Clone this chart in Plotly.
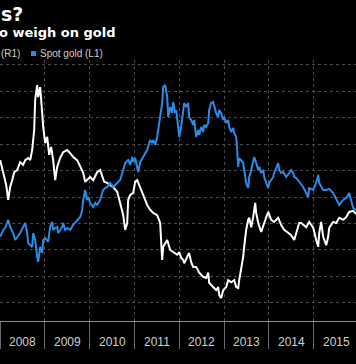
import plotly.graph_objects as go

# ---- data (decimal years) ----
yield_years = [2008.000, 2008.045, 2008.089, 2008.134, 2008.179, 2008.223, 2008.268, 2008.313, 2008.379, 2008.446,
               2008.513, 2008.558, 2008.625, 2008.670, 2008.714, 2008.759, 2008.781, 2008.804, 2008.826, 2008.848,
               2008.893, 2008.938, 2008.960, 2009.004, 2009.049, 2009.094, 2009.138, 2009.183, 2009.228, 2009.272,
               2009.339, 2009.406, 2009.496, 2009.563, 2009.629, 2009.719, 2009.786, 2009.853, 2009.897, 2009.942,
               2010.009, 2010.076, 2010.165, 2010.232, 2010.277, 2010.321, 2010.388, 2010.455, 2010.522, 2010.612,
               2010.656, 2010.701, 2010.746, 2010.790, 2010.835, 2010.857, 2010.902, 2010.969, 2011.013, 2011.058,
               2011.125, 2011.192, 2011.281, 2011.348, 2011.415, 2011.504, 2011.571, 2011.616, 2011.638, 2011.728,
               2011.795, 2011.862, 2011.951, 2011.996, 2012.040, 2012.085, 2012.107, 2012.196, 2012.219, 2012.263,
               2012.308, 2012.375, 2012.442, 2012.531, 2012.598, 2012.643, 2012.665, 2012.754, 2012.821, 2012.866,
               2012.888, 2012.933, 2012.978, 2013.045, 2013.089, 2013.156, 2013.223, 2013.268, 2013.313, 2013.335,
               2013.379, 2013.424, 2013.446, 2013.491, 2013.536, 2013.558, 2013.603, 2013.647, 2013.692, 2013.714,
               2013.759, 2013.826, 2013.893, 2013.982, 2014.049, 2014.116, 2014.205, 2014.272, 2014.339, 2014.429,
               2014.496, 2014.563, 2014.607, 2014.674, 2014.719, 2014.763, 2014.830, 2014.897, 2014.987, 2015.054,
               2015.098, 2015.121, 2015.165, 2015.210, 2015.277, 2015.321, 2015.344, 2015.433, 2015.500, 2015.567,
               2015.656, 2015.723, 2015.790, 2015.879, 2015.946]
real_yield = [1.70, 1.55, 1.42, 1.23, 0.95, 1.19, 1.32, 1.47, 1.51, 1.66,
              1.61, 1.70, 1.74, 1.70, 1.89, 2.27, 2.84, 3.06, 3.12, 2.89,
              3.08, 2.59, 2.33, 2.02, 2.14, 1.80, 1.95, 1.70, 1.32, 1.57,
              1.74, 1.85, 1.89, 1.83, 1.76, 1.70, 1.57, 1.46, 1.29, 1.32,
              1.38, 1.32, 1.47, 1.51, 1.38, 1.29, 1.27, 1.23, 1.19, 1.10,
              0.95, 0.81, 0.66, 0.38, 0.51, 0.95, 1.04, 1.08, 1.29, 1.32,
              1.19, 1.04, 0.85, 0.76, 0.70, 0.66, 0.51, -0.19, 0.06, 0.19,
              0.00, -0.04, -0.09, -0.04, -0.15, -0.19, -0.25, -0.09, -0.06, -0.23,
              -0.32, -0.32, -0.43, -0.51, -0.53, -0.43, -0.62, -0.70, -0.76, -0.70,
              -0.85, -0.91, -0.76, -0.70, -0.57, -0.61, -0.57, -0.70, -0.72, -0.57,
              -0.38, -0.13, 0.06, 0.38, 0.57, 0.61, 0.43, 0.62, 0.89, 0.70,
              0.51, 0.34, 0.51, 0.72, 0.57, 0.53, 0.61, 0.47, 0.38, 0.32,
              0.28, 0.19, 0.32, 0.51, 0.51, 0.47, 0.43, 0.53, 0.42, 0.19,
              0.06, 0.32, 0.53, 0.25, 0.09, 0.25, 0.42, 0.53, 0.51, 0.61,
              0.57, 0.62, 0.72, 0.74, 0.68]

gold_years = [2008.000, 2008.067, 2008.112, 2008.156, 2008.179, 2008.223, 2008.290, 2008.335, 2008.379, 2008.446,
              2008.513, 2008.558, 2008.603, 2008.625, 2008.670, 2008.714, 2008.737, 2008.781, 2008.826, 2008.848,
              2008.893, 2008.938, 2008.960, 2009.004, 2009.071, 2009.116, 2009.161, 2009.183, 2009.228, 2009.272,
              2009.295, 2009.339, 2009.384, 2009.406, 2009.451, 2009.496, 2009.563, 2009.629, 2009.719, 2009.786,
              2009.830, 2009.853, 2009.897, 2009.942, 2009.964, 2010.009, 2010.076, 2010.121, 2010.165, 2010.232,
              2010.277, 2010.299, 2010.344, 2010.388, 2010.455, 2010.522, 2010.612, 2010.679, 2010.746, 2010.790,
              2010.857, 2010.902, 2010.946, 2010.969, 2011.013, 2011.058, 2011.080, 2011.125, 2011.192, 2011.281,
              2011.348, 2011.393, 2011.415, 2011.460, 2011.504, 2011.527, 2011.571, 2011.616, 2011.638, 2011.683,
              2011.728, 2011.750, 2011.795, 2011.839, 2011.862, 2011.906, 2011.929, 2011.973, 2011.996, 2012.040,
              2012.085, 2012.107, 2012.152, 2012.196, 2012.219, 2012.263, 2012.308, 2012.330, 2012.375, 2012.420,
              2012.442, 2012.487, 2012.531, 2012.554, 2012.598, 2012.643, 2012.665, 2012.710, 2012.754, 2012.777,
              2012.821, 2012.866, 2012.888, 2012.933, 2012.978, 2013.000, 2013.045, 2013.089, 2013.112, 2013.156,
              2013.201, 2013.223, 2013.268, 2013.290, 2013.313, 2013.335, 2013.379, 2013.424, 2013.446, 2013.491,
              2013.536, 2013.558, 2013.603, 2013.647, 2013.670, 2013.714, 2013.759, 2013.781, 2013.826, 2013.871,
              2013.893, 2013.938, 2013.982, 2014.004, 2014.049, 2014.094, 2014.116, 2014.161, 2014.205, 2014.228,
              2014.272, 2014.317, 2014.384, 2014.451, 2014.496, 2014.540, 2014.563, 2014.607, 2014.674, 2014.763,
              2014.830, 2014.875, 2014.897, 2014.987, 2015.054, 2015.098, 2015.121, 2015.210, 2015.277, 2015.344,
              2015.433, 2015.500, 2015.567, 2015.656, 2015.723, 2015.790, 2015.835, 2015.879, 2015.946]
gold = [888, 934, 947, 980, 1000, 954, 914, 868, 888, 914,
        954, 980, 914, 848, 835, 822, 914, 868, 756, 723,
        822, 782, 868, 881, 855, 954, 987, 934, 947, 954,
        914, 934, 954, 980, 934, 947, 934, 967, 1000, 1020,
        1066, 1132, 1198, 1132, 1152, 1112, 1086, 1112, 1099, 1132,
        1178, 1198, 1211, 1218, 1244, 1218, 1244, 1264, 1330, 1376,
        1396, 1363, 1416, 1383, 1409, 1350, 1317, 1383, 1416, 1462,
        1528, 1508, 1528, 1495, 1548, 1594, 1660, 1772, 1878, 1891,
        1812, 1680, 1746, 1706, 1779, 1706, 1726, 1594, 1548, 1614,
        1706, 1772, 1746, 1772, 1680, 1660, 1627, 1660, 1548, 1594,
        1561, 1614, 1581, 1627, 1614, 1640, 1726, 1772, 1779, 1746,
        1706, 1680, 1726, 1706, 1660, 1680, 1640, 1660, 1614, 1581,
        1607, 1574, 1548, 1462, 1350, 1409, 1396, 1376, 1330, 1244,
        1211, 1284, 1330, 1396, 1416, 1376, 1330, 1350, 1310, 1330,
        1284, 1244, 1211, 1244, 1264, 1284, 1310, 1350, 1376, 1330,
        1310, 1317, 1284, 1310, 1330, 1310, 1284, 1277, 1251, 1218,
        1178, 1152, 1211, 1198, 1244, 1297, 1244, 1198, 1198, 1205,
        1178, 1139, 1099, 1132, 1145, 1178, 1119, 1079, 1066]

year_ticks = [2008, 2009, 2010, 2011, 2012, 2013, 2014, 2015, 2016]
year_labels = ["2008", "2009", "2010", "2011", "2012", "2013", "2014", "2015"]

title_text = "s?"
subtitle_text = "o weigh on gold"
legend_white = "(R1)"
legend_blue = "Spot gold (L1)"

BLUE = "#2a8ce6"
W, H = 356, 364
T, B = 60, 43

fig = go.Figure()
fig.add_trace(go.Scatter(x=yield_years, y=real_yield, mode="lines", yaxis="y",
                         line=dict(color="#ffffff", width=2), showlegend=False, hoverinfo="skip"))
fig.add_trace(go.Scatter(x=gold_years, y=gold, mode="lines", yaxis="y2",
                         line=dict(color=BLUE, width=2), showlegend=False, hoverinfo="skip"))

annotations = []
for lab in year_labels:
    annotations.append(dict(x=int(lab) + 0.5, y=0, xref="x", yref="paper", text=lab,
                            showarrow=False, yanchor="middle", yshift=-21,
                            font=dict(family="Liberation Sans, Arial", size=12, color="#cfcfcf")))
annotations.append(dict(x=0, y=1, xref="paper", yref="paper", text="<b>" + title_text + "</b>",
                        showarrow=False, xanchor="left", yanchor="middle", yshift=46, xshift=-1,
                        font=dict(family="DejaVu Sans", size=19, color="#ffffff")))
annotations.append(dict(x=0, y=1, xref="paper", yref="paper", text="<b>" + subtitle_text + "</b>",
                        showarrow=False, xanchor="left", yanchor="middle", yshift=28, xshift=-3,
                        font=dict(family="DejaVu Sans", size=13, color="#ffffff")))
annotations.append(dict(x=0, y=1, xref="paper", yref="paper", text=legend_white,
                        showarrow=False, xanchor="left", yanchor="middle", yshift=7, xshift=-1,
                        font=dict(family="Liberation Sans, Arial", size=10, color="#cfcfcf")))
annotations.append(dict(x=38 / W, y=1, xref="paper", yref="paper", text=legend_blue,
                        showarrow=False, xanchor="left", yanchor="middle", yshift=7,
                        font=dict(family="Liberation Sans, Arial", size=10, color="#cfcfcf")))

fig.update_layout(
    width=W, height=H,
    margin=dict(l=0, r=0, t=T, b=B, pad=0),
    paper_bgcolor="#000000", plot_bgcolor="#000000",
    showlegend=False,
    annotations=annotations,
    shapes=[dict(type="rect", xref="paper", yref="paper",
                 x0=31 / W, x1=36 / W, y0=(H - B - 56) / (H - T - B), y1=(H - B - 51) / (H - T - B),
                 fillcolor=BLUE, line=dict(width=0))],
    xaxis=dict(range=[2007.996, 2015.942], tickvals=year_ticks, showticklabels=False,
               ticks="outside", ticklen=27, tickcolor="#6a6a6a", tickwidth=1,
               showgrid=True, gridcolor="#4a4a4a", griddash="dot", gridwidth=1,
               showline=True, linecolor="#8c8c8c", linewidth=1, zeroline=False, fixedrange=True),
    yaxis=dict(range=[-1.343, 3.593], tick0=0, dtick=0.5, side="right", showticklabels=False,
               ticks="", showgrid=True, gridcolor="#4a4a4a", griddash="dot", gridwidth=1,
               zeroline=False, showline=False),
    yaxis2=dict(range=[333, 2056], overlaying="y", side="left", showticklabels=False,
                ticks="", showgrid=False, zeroline=False, showline=False),
)

fig.write_html("out.html", config={"displayModeBar": False},
               post_script="document.body.style.margin='0';document.body.style.padding='0';"
                           "document.body.style.overflow='hidden';"
                           "document.documentElement.style.overflow='hidden';")
